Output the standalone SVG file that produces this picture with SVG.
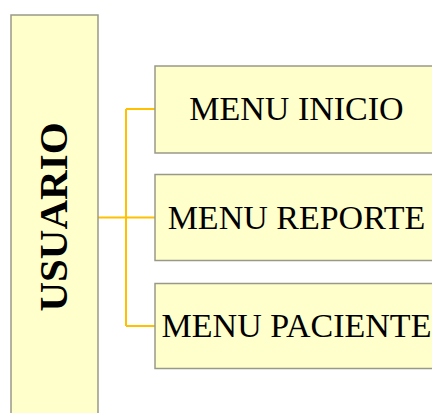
<svg xmlns="http://www.w3.org/2000/svg" width="432" height="413" viewBox="0 0 432 413">
  <style>
    .box { fill: #FFFFCC; stroke: #999988; stroke-width: 1.5; }
    .lbl { font-family: "Liberation Serif", "Times New Roman", serif; font-size: 34px; fill: #000; text-anchor: middle; }
    .root { font-family: "Liberation Serif", "Times New Roman", serif; font-size: 41px; font-weight: bold; fill: #000; text-anchor: middle; }
    .wire { fill: none; stroke: #FFC000; stroke-width: 2; }
  </style>
  <rect width="432" height="413" fill="#FFFFFF"/>

  <!-- connectors: trunk from the root bar, then a bus to each menu -->
  <g id="connectors">
    <path class="wire" d="M98 217.5 H155"/>
    <path class="wire" d="M126 109 V326"/>
    <path class="wire" d="M126 109 H155"/>
    <path class="wire" d="M126 326 H155"/>
  </g>

  <g id="usuario">
    <rect class="box" x="11" y="15" width="87" height="410"/>
    <text class="root" transform="translate(67 217) rotate(-90)">USUARIO</text>
  </g>

  <g id="menu-inicio">
    <rect class="box" x="155" y="66" width="290" height="87"/>
    <text class="lbl" x="296.5" y="120">MENU INICIO</text>
  </g>

  <g id="menu-reporte">
    <rect class="box" x="155" y="174.5" width="290" height="86"/>
    <text class="lbl" x="296.5" y="228.5">MENU REPORTE</text>
  </g>

  <g id="menu-paciente">
    <rect class="box" x="155" y="283.5" width="290" height="85"/>
    <text class="lbl" x="296.5" y="337">MENU PACIENTE</text>
  </g>
</svg>
